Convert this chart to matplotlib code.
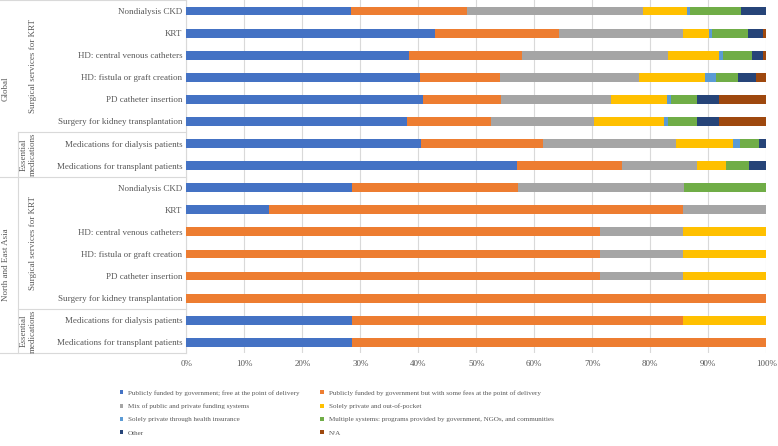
import matplotlib
matplotlib.use("Agg")
import matplotlib.pyplot as plt
from matplotlib.patches import Patch
from matplotlib.lines import Line2D
from matplotlib.transforms import blended_transform_factory
import numpy as np

plt.rcParams['font.family'] = ['Liberation Serif', 'DejaVu Serif']

categories = [
    "Nondialysis CKD", "KRT", "HD: central venous catheters", "HD: fistula or graft creation",
    "PD catheter insertion", "Surgery for kidney transplantation",
    "Medications for dialysis patients", "Medications for transplant patients",
    "Nondialysis CKD", "KRT", "HD: central venous catheters", "HD: fistula or graft creation",
    "PD catheter insertion", "Surgery for kidney transplantation",
    "Medications for dialysis patients", "Medications for transplant patients",
]
regions = ["Global", "North and East Asia"]
subgroups = ["Surgical services for KRT", "Essential\nmedications"]

series_names = [
    "Publicly funded by government; free at the point of delivery",
    "Publicly funded by government but with some fees at the point of delivery",
    "Mix of public and private funding systems",
    "Solely private and out-of-pocket",
    "Solely private through health insurance",
    "Multiple systems: programs provided by government, NGOs, and communities",
    "Other",
    "N/A",
]
free_public = [28.4, 42.8, 38.4, 40.3, 40.8, 38.0, 40.5, 57.0,
               28.6, 14.3, 0, 0, 0, 0, 28.6, 28.6]
public_fees = [20.0, 21.4, 19.5, 13.8, 13.4, 14.5, 21.0, 18.1,
               28.6, 71.4, 71.4, 71.4, 71.4, 100.0, 57.1, 71.4]
mixed = [30.3, 21.4, 25.1, 24.0, 19.1, 17.8, 22.9, 13.0,
         28.6, 14.3, 14.3, 14.3, 14.3, 0, 0, 0]
out_of_pocket = [7.6, 4.5, 8.9, 11.3, 9.6, 12.1, 9.9, 5.0,
                 0, 0, 14.3, 14.3, 14.3, 0, 14.3, 0]
private_insurance = [0.6, 0.5, 0.6, 1.9, 0.6, 0.6, 1.2, 0,
                     0, 0, 0, 0, 0, 0, 0, 0]
multiple = [8.7, 6.3, 5.0, 3.8, 4.5, 5.1, 3.3, 4.0,
            14.3, 0, 0, 0, 0, 0, 0, 0]
other = [4.4, 2.5, 1.9, 3.1, 3.8, 3.7, 1.2, 2.9,
         0, 0, 0, 0, 0, 0, 0, 0]
na = [0, 0.6, 0.6, 1.8, 8.2, 8.2, 0, 0,
      0, 0, 0, 0, 0, 0, 0, 0]

series = [free_public, public_fees, mixed, out_of_pocket, private_insurance, multiple, other, na]
colors = ["#4472C4", "#ED7D31", "#A5A5A5", "#FFC000", "#5B9BD5", "#70AD47", "#264478", "#9E480E"]

W, H = 778, 446
fig = plt.figure(figsize=(W / 100, H / 100), dpi=100)
ax = fig.add_axes([186.3 / W, 1 - 353.3 / H, (766.3 - 186.3) / W, 353.3 / H])

y = np.arange(len(categories))
left = np.zeros(len(categories))
for vals, c, name in zip(series, colors, series_names):
    v = np.array(vals, dtype=float)
    ax.barh(y, v, left=left, height=0.4, color=c, label=name, zorder=3)
    left += v

fs = 6.5
ax.set_xlim(0, 100)
ax.set_ylim(len(categories) - 0.5, -0.5)
ax.set_xticks(np.arange(0, 101, 10))
ax.set_xticklabels([f"{t}%" for t in range(0, 101, 10)])
ax.set_yticks(y)
ax.set_yticklabels(categories)
txtc = "#595959"
ax.tick_params(axis='y', length=0, pad=3, labelsize=fs, labelcolor=txtc)
ax.tick_params(axis='x', length=0, pad=5, labelsize=fs, labelcolor=txtc)
ax.grid(axis='x', color="#D9D9D9", linewidth=0.8, zorder=0)
for s in ["top", "right", "bottom"]:
    ax.spines[s].set_visible(False)
ax.spines["left"].set_color("#D9D9D9")
ax.spines["left"].set_linewidth(0.8)

# Multi-level category axis
tr = blended_transform_factory(fig.transFigure, ax.transData)
lc = "#D9D9D9"
def hline(x0, x1, yd):
    fig.add_artist(Line2D([x0 / W, x1 / W], [yd, yd], transform=tr, color=lc, lw=0.8, clip_on=False))
def vline(xp, y0, y1):
    fig.add_artist(Line2D([xp / W, xp / W], [y0, y1], transform=tr, color=lc, lw=0.8, clip_on=False))

hline(0, 186.3, -0.5)
hline(18, 186.3, 5.5)
hline(0, 186.3, 7.5)
hline(18, 186.3, 13.5)
hline(0, 186.3, 15.5)
vline(18, 5.5, 7.5)
vline(18, 7.5, 15.5)

for gi, region in enumerate(regions):
    base = gi * 8
    t0 = fig.text(6 / W, 0, region, transform=tr, rotation=90, ha='center', va='center',
                  fontsize=fs, color=txtc)
    t0.set_y(base + 3.5)
    t1 = fig.text(33 / W, 0, subgroups[0], transform=tr, rotation=90, ha='center', va='center',
                  fontsize=fs, color=txtc)
    t1.set_y(base + 2.5)
    t2 = fig.text(28 / W, 0, subgroups[1], transform=tr, rotation=90, ha='center', va='center',
                  fontsize=fs, color=txtc, linespacing=1.1, multialignment='center')
    t2.set_y(base + 6.5)

handles = [Patch(facecolor=c, edgecolor='none') for c in colors]
order = [0, 2, 4, 6, 1, 3, 5, 7]
leg = fig.legend([handles[i] for i in order], [series_names[i] for i in order],
                 ncol=2, loc='upper left', bbox_to_anchor=(119.5 / W, 1 - 390 / H),
                 frameon=False, fontsize=5.1, handlelength=0.5, handleheight=0.5,
                 handletextpad=0.7, columnspacing=2.9, labelspacing=1.1,
                 labelcolor=txtc, borderaxespad=0, borderpad=0)

fig.savefig("out.png", dpi=100)
